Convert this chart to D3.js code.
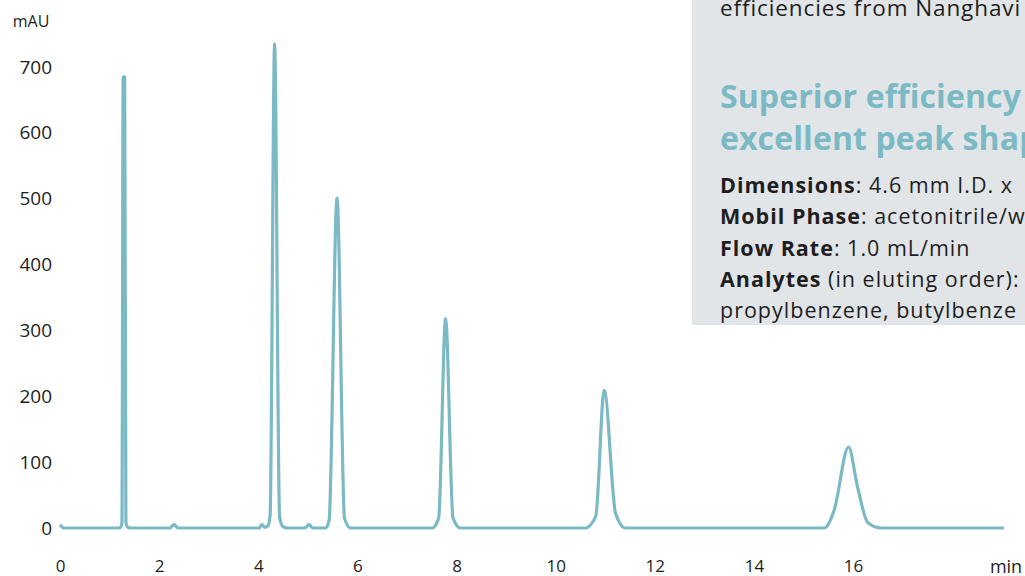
<!DOCTYPE html>
<html>
<head>
<meta charset="utf-8">
<script src="https://cdn.jsdelivr.net/npm/d3@7"></script>
<style>
  body { margin: 0; background: #fff; }
  svg { display: block; font-family: "Open Sans", Lato, sans-serif; }
</style>
</head>
<body>
<script>
// chromatogram trace, time in min / absorbance in mAU
var times = [0, 0.08, 1.21, 1.25, 1.275, 1.305, 1.33, 1.37, 1.42, 2.22, 2.3, 2.38, 4.02, 4.07, 4.14, 4.2, 4.24, 4.33, 4.43, 4.5, 4.58,
             4.94, 5.02, 5.1, 5.36, 5.43, 5.59, 5.74, 5.86, 7.51, 7.64, 7.78, 7.93, 8.08, 10.6, 10.81, 10.98, 11.21, 11.41,
             15.42, 15.62, 15.91, 16.09, 16.3, 16.57, 19.05];
var mau =   [5, 0, 0, 8, 685, 685, 8, 1, 0, 0, 5, 0, 0, 5, 1, 4, 20, 735, 17, 2, 0,
             0, 5, 0, 0, 12, 501, 15, 0, 0, 15, 318, 15, 0, 0, 18, 209, 22, 0,
             0, 27, 123, 63, 8, 0, 0];
var xTicks = [0, 2, 4, 6, 8, 10, 12, 14, 16];
var yTicks = [0, 100, 200, 300, 400, 500, 600, 700];

var infoTop = "efficiencies from Nanghavi";
var infoTitle = ["Superior efficiency", "excellent peak shap"];
var infoLines = [
  [["Dimensions", true], [": 4.6 mm I.D. x", false]],
  [["Mobil Phase", true], [": acetonitrile/w", false]],
  [["Flow Rate", true], [": 1.0 mL/min", false]],
  [["Analytes", true], [" (in eluting order):", false]],
  [["propylbenzene, butylbenze", false]]
];

var width = 1025, height = 576;
var lineColor = "#7bb9c5";
var textColor = "#1e1e1e";

var svg = d3.select("body").append("svg")
  .attr("width", width)
  .attr("height", height);

var x = d3.scaleLinear().domain([0, 16]).range([60, 853]);
var y = d3.scaleLinear().domain([0, 700]).range([528, 67]);

// info box on the right, runs off the page
var box = svg.append("g").attr("class", "info");
box.append("rect")
  .attr("x", 692).attr("y", -5)
  .attr("width", 400).attr("height", 330)
  .attr("fill", "#e1e5e8");
box.append("text")
  .attr("x", 720).attr("y", 16)
  .attr("font-size", 22.5).attr("letter-spacing", 0.9).attr("fill", textColor)
  .text(infoTop);
box.selectAll(".ttl")
  .data(infoTitle)
  .enter().append("text")
  .attr("class", "ttl")
  .attr("x", 720)
  .attr("y", function(d, i) { return 108 + i * 42; })
  .attr("font-size", 32).attr("font-weight", "bold").attr("letter-spacing", 0.1)
  .attr("fill", lineColor)
  .text(function(d) { return d; });
box.selectAll(".ln")
  .data(infoLines)
  .enter().append("text")
  .attr("class", "ln")
  .attr("x", 720)
  .attr("y", function(d, i) { return 193 + i * 31.3; })
  .attr("font-size", 21.5).attr("letter-spacing", 1.0).attr("fill", textColor)
  .each(function(d) {
    var t = d3.select(this);
    d.forEach(function(p) {
      t.append("tspan").attr("font-weight", p[1] ? "bold" : "normal").text(p[0]);
    });
  });

// axes, labels only
var xAxis = svg.append("g")
  .attr("transform", "translate(0,556)")
  .call(d3.axisBottom(x).tickValues(xTicks).tickSize(0).tickFormat(d3.format("d")))
  .attr("font-family", null).attr("font-size", 17);
xAxis.select(".domain").remove();
xAxis.selectAll("text").attr("dy", "0.71em").attr("y", 4).attr("fill", textColor);

var yAxis = svg.append("g")
  .attr("transform", "translate(52,0)")
  .call(d3.axisLeft(y).tickValues(yTicks).tickSize(0).tickFormat(d3.format("d")))
  .attr("font-family", null).attr("font-size", 19);
yAxis.select(".domain").remove();
yAxis.selectAll("text").attr("x", 0).attr("fill", textColor);

svg.append("text")
  .attr("x", 1006).attr("y", 573)
  .attr("text-anchor", "middle")
  .attr("font-size", 18).attr("fill", textColor)
  .text("min");
svg.append("text")
  .attr("x", 31).attr("y", 27)
  .attr("text-anchor", "middle")
  .attr("font-size", 16).attr("fill", textColor)
  .text("mAU");

var line = d3.line()
  .x(function(d) { return x(d[0]); })
  .y(function(d) { return y(d[1]); })
  .curve(d3.curveMonotoneX);

svg.append("path")
  .datum(times.map(function(t, i) { return [t, mau[i]]; }))
  .attr("d", line)
  .attr("fill", "none")
  .attr("stroke", lineColor)
  .attr("stroke-width", 3.2)
  .attr("stroke-linejoin", "round");
</script>
</body>
</html>
